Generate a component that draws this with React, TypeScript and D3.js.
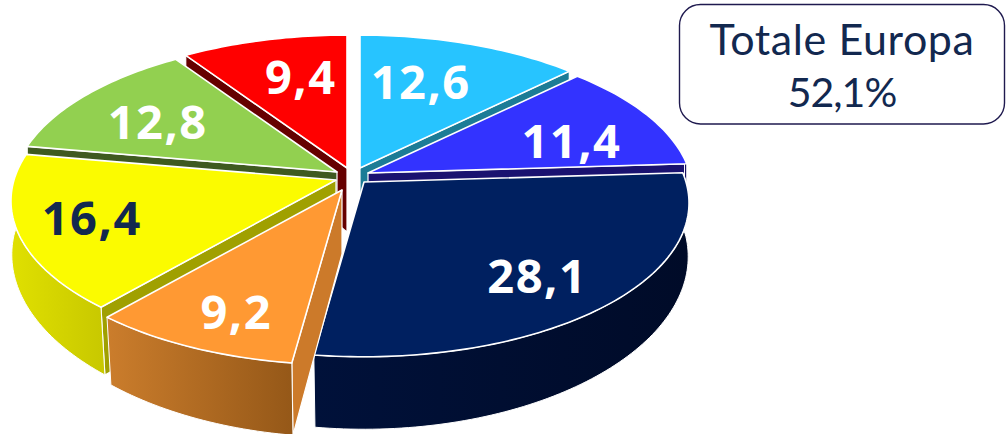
import React from "react";
import * as d3 from "d3";

const labels = ["12,6", "11,4", "28,1", "9,2", "16,4", "12,8", "9,4"];
const values = [12.6, 11.4, 28.1, 9.2, 16.4, 12.8, 9.4];
const topColors = ["#27c4ff", "#3333ff", "#002060", "#ff9933", "#fbfb00", "#92d050", "#ff0000"];
const edgeColors = ["#1c7c96", "#1a1270", "#001440", "#cc7a2a", "#a0a000", "#3f5a20", "#660000"];
const wallFrom = ["#1c7c96", "#1a1270", "#00113a", "#cb7d2c", "#e0e000", "#5a8030", "#990000"];
const wallTo = ["#145a6e", "#100a50", "#000b28", "#955818", "#c8c800", "#3f5a20", "#660000"];
const labelColors = ["#ffffff", "#ffffff", "#ffffff", "#ffffff", "#12284f", "#ffffff", "#ffffff"];
const paintOrder = [6, 0, 5, 1, 4, 2, 3];
const apexX = [360, 368, 364, 342, 336, 337, 347];
const apexY = [168, 173, 182, 190, 180, 172, 168];
const labelNudgeX = [-14, 19, 21, -12, -41, -12, 10];
const labelNudgeY = [-2, 7, 17, 25, 4, 1, -4];
const titleLines = ["Totale Europa", "52,1%"];
const titleSizes = [43, 41];
const titleSpacing = [0.6, -1];

const R = 322, B = 151, P = 0.136;
const WALL_OFFSET = 55, WALL_GROW = 1.1, APEX_DEPTH = 64, NARROW = 0.00013;
type Pt = [number, number];
const proj = (a: number, f = 1): Pt => {
  const u = Math.sin(a), v = Math.cos(a), d = 1 + P * f * v;
  return [(R * f * u) / d, (-B * f * v) / d];
};
const lineGen = d3.line<Pt>();
const samples = (a0: number, a1: number) => {
  const n = Math.max(2, Math.ceil(Math.abs(a1 - a0) / 0.02));
  return d3.range(n + 1).map((i) => a0 + ((a1 - a0) * i) / n);
};

export default function App() {
  const arcs = d3.pie<number>().sort(null).startAngle(0).endAngle(2 * Math.PI)(values);
  const HALF = Math.PI;
  return (
    <svg width={1007} height={434} style={{ position: "absolute", left: 0, top: 0, background: "#fff" }}>
      <defs>
        {values.map((_, i) => (
          <linearGradient key={i} id={`w${i}`} x1="0" x2="1" y1="0" y2="0">
            <stop offset="0" stopColor={wallFrom[i]} />
            <stop offset="1" stopColor={wallTo[i]} />
          </linearGradient>
        ))}
      </defs>
      {paintOrder.map((i) => {
        const arc = arcs[i];
        const ax = apexX[i], ay = apexY[i];
        const top = ([x, y]: Pt): Pt => [ax + x, ay + y];
        const bot = ([x, y]: Pt): Pt => [
          ax + x * (1 - NARROW * Math.max(0, y)),
          ay + WALL_OFFSET + WALL_GROW * y,
        ];
        const rim = samples(arc.startAngle, arc.endAngle);
        const topPath = lineGen([top([0, 0]), ...rim.map((a) => top(proj(a)))]) + "Z";
        const lo = Math.max(arc.startAngle, Math.PI * 0.47);
        const hi = Math.min(arc.endAngle, Math.PI * 1.53);
        const wallAngles = hi > lo ? samples(lo, hi) : [];
        const outer = wallAngles.length
          ? lineGen([
              ...wallAngles.map((a) => top(proj(a))),
              ...wallAngles.slice().reverse().map((a) => bot(proj(a))),
            ]) + "Z"
          : null;
        const radialAngle =
          arc.startAngle > HALF ? arc.startAngle : arc.endAngle < HALF ? arc.endAngle : null;
        const radial =
          radialAngle !== null
            ? lineGen([top([0, 0]), top(proj(radialAngle)), bot(proj(radialAngle)), [ax, ay + APEX_DEPTH]]) + "Z"
            : null;
        return (
          <g key={i}>
            {radial && <path d={radial} fill={edgeColors[i]} stroke="#fff" strokeWidth={1.2} strokeLinejoin="round" />}
            {outer && <path d={outer} fill={`url(#w${i})`} stroke="#fff" strokeWidth={1} strokeLinejoin="round" />}
            <path d={topPath} fill={topColors[i]} stroke="#fff" strokeWidth={1.6} strokeLinejoin="round" />
          </g>
        );
      })}
      {arcs.map((arc, i) => {
        const mid = (arc.startAngle + arc.endAngle) / 2;
        const [x, y] = proj(mid, 0.65);
        return (
          <text
            key={i}
            x={apexX[i] + x + labelNudgeX[i]}
            y={apexY[i] + y + labelNudgeY[i]}
            dy="0.36em"
            textAnchor="middle"
            fontFamily="'Open Sans', sans-serif"
            fontWeight={700}
            fontSize={47}
            letterSpacing={1.5}
            fill={labelColors[i]}
          >
            {labels[i]}
          </text>
        );
      })}
      <rect x={679.5} y={4.5} width={325} height={119.5} rx={21} fill="#fff" stroke="#1f1a4f" strokeWidth={1.4} />
      {titleLines.map((t, i) => (
        <text
          key={t}
          x={842}
          y={55 + i * 52}
          textAnchor="middle"
          fontFamily="Lato, sans-serif"
          fontSize={titleSizes[i]}
          letterSpacing={titleSpacing[i]}
          fill="#12284f"
        >
          {t}
        </text>
      ))}
    </svg>
  );
}
